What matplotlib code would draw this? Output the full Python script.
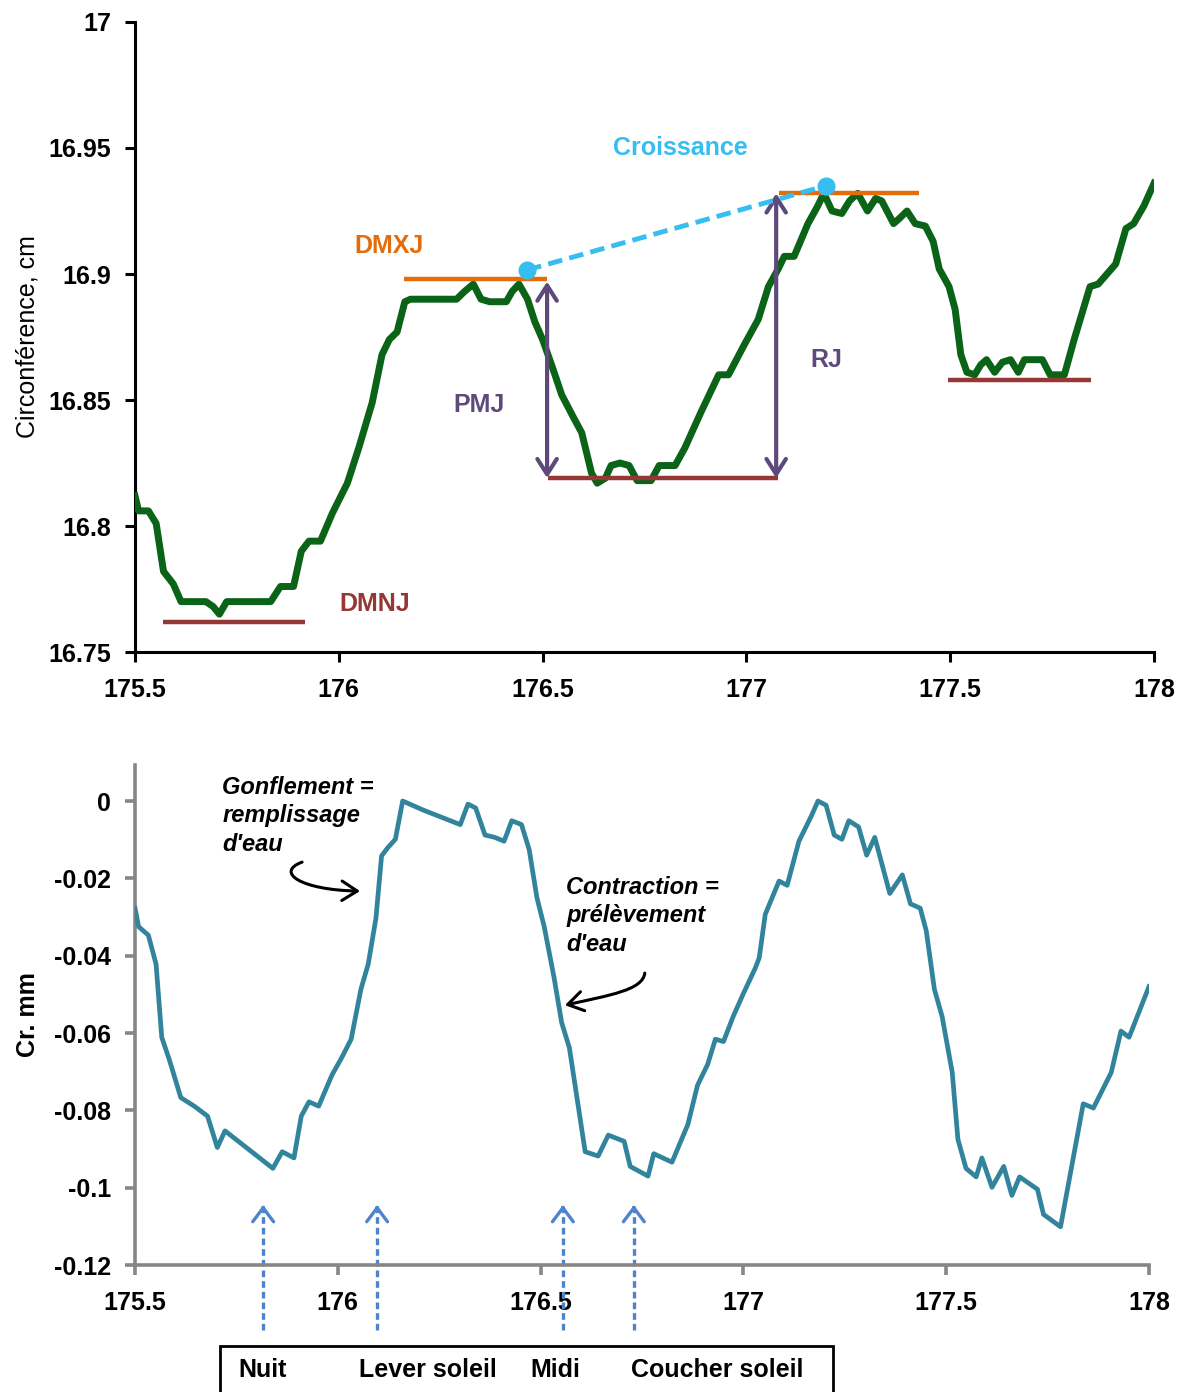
import numpy as np
import matplotlib
matplotlib.use("Agg")
import matplotlib.pyplot as plt
import matplotlib.transforms as mtransforms
from matplotlib.patches import Rectangle, FancyArrowPatch
from matplotlib.path import Path

plt.rcParams['font.family'] = ['Liberation Sans', 'DejaVu Sans']
plt.rcParams['axes.unicode_minus'] = False

# --- circumference record (cm) ---
jour_c = [175.500, 175.509, 175.533, 175.552, 175.570, 175.594, 175.613, 175.674, 175.692,
          175.707, 175.725, 175.833, 175.857, 175.889, 175.908, 175.927, 175.955, 175.984,
          176.021, 176.049, 176.082, 176.106, 176.124, 176.143, 176.162, 176.176, 176.289,
          176.308, 176.330, 176.349, 176.370, 176.411, 176.425, 176.442, 176.463, 176.481,
          176.500, 176.524, 176.547, 176.576, 176.596, 176.620, 176.634, 176.654, 176.668,
          176.690, 176.712, 176.732, 176.766, 176.786, 176.825, 176.849, 176.888, 176.932,
          176.956, 176.995, 177.029, 177.054, 177.078, 177.093, 177.117, 177.151, 177.175,
          177.190, 177.210, 177.234, 177.253, 177.273, 177.297, 177.317, 177.332, 177.361,
          177.375, 177.394, 177.414, 177.439, 177.458, 177.473, 177.497, 177.512, 177.526,
          177.541, 177.560, 177.575, 177.589, 177.609, 177.628, 177.648, 177.667, 177.682,
          177.726, 177.745, 177.780, 177.804, 177.843, 177.863, 177.906, 177.931, 177.950,
          177.975, 178.000]
circ = [16.812, 16.806, 16.806, 16.801, 16.782, 16.777, 16.770, 16.770, 16.768,
        16.765, 16.770, 16.770, 16.776, 16.776, 16.790, 16.794, 16.794, 16.805,
        16.817, 16.831, 16.849, 16.868, 16.874, 16.877, 16.889, 16.890, 16.890,
        16.893, 16.896, 16.890, 16.889, 16.889, 16.893, 16.896, 16.890, 16.881,
        16.874, 16.863, 16.852, 16.843, 16.837, 16.821, 16.817, 16.819, 16.824,
        16.825, 16.824, 16.818, 16.818, 16.824, 16.824, 16.831, 16.845, 16.860,
        16.860, 16.872, 16.882, 16.895, 16.902, 16.907, 16.907, 16.920, 16.927,
        16.932, 16.925, 16.924, 16.929, 16.932, 16.925, 16.930, 16.929, 16.920,
        16.922, 16.925, 16.920, 16.919, 16.913, 16.902, 16.895, 16.886, 16.868,
        16.861, 16.860, 16.864, 16.866, 16.861, 16.865, 16.866, 16.861, 16.866,
        16.866, 16.860, 16.860, 16.874, 16.895, 16.896, 16.904, 16.918, 16.920,
        16.927, 16.936]

# daily extremes (start, end, level)
dmnj = [(175.569, 175.917, 16.762), (176.513, 177.078, 16.819), (177.495, 177.845, 16.858)]
dmxj = [(176.160, 176.512, 16.898), (177.080, 177.423, 16.932)]
pmj = (176.511, 16.897, 16.819)
rj = (177.073, 16.932, 16.819)
croiss_x = [176.462, 177.195]
croiss_y = [16.9016, 16.935]

# --- trunk variation (mm) ---
jour_v = [175.500, 175.509, 175.533, 175.552, 175.566, 175.585, 175.613, 175.646, 175.679,
          175.703, 175.722, 175.840, 175.863, 175.892, 175.910, 175.929, 175.953, 175.986,
          176.009, 176.033, 176.057, 176.075, 176.094, 176.108, 176.123, 176.142, 176.160,
          176.212, 176.302, 176.321, 176.340, 176.363, 176.387, 176.410, 176.429, 176.453,
          176.472, 176.491, 176.509, 176.533, 176.552, 176.571, 176.610, 176.642, 176.667,
          176.706, 176.721, 176.765, 176.779, 176.824, 176.863, 176.887, 176.912, 176.931,
          176.951, 176.975, 177.000, 177.029, 177.039, 177.054, 177.088, 177.108, 177.137,
          177.167, 177.184, 177.204, 177.224, 177.243, 177.260, 177.284, 177.304, 177.324,
          177.361, 177.392, 177.412, 177.436, 177.451, 177.471, 177.490, 177.515, 177.529,
          177.549, 177.574, 177.588, 177.613, 177.642, 177.662, 177.681, 177.725, 177.740,
          177.782, 177.838, 177.863, 177.907, 177.931, 177.951, 178.000]
var = [-0.0277, -0.0325, -0.0347, -0.0422, -0.0611, -0.0670, -0.0767, -0.0789, -0.0815,
       -0.0896, -0.0853, -0.0950, -0.0907, -0.0923, -0.0815, -0.0778, -0.0789, -0.0708,
       -0.0665, -0.0616, -0.0487, -0.0422, -0.0304, -0.0142, -0.0121, -0.0099, 0.0000,
       -0.0024, -0.0061, -0.0008, -0.0018, -0.0088, -0.0094, -0.0104, -0.0051, -0.0061,
       -0.0126, -0.0250, -0.0325, -0.0455, -0.0573, -0.0638, -0.0907, -0.0918, -0.0864,
       -0.0880, -0.0945, -0.0970, -0.0912, -0.0934, -0.0837, -0.0735, -0.0681, -0.0616,
       -0.0622, -0.0557, -0.0498, -0.0433, -0.0406, -0.0293, -0.0207, -0.0218, -0.0104,
       -0.0040, 0.0000, -0.0011, -0.0088, -0.0099, -0.0051, -0.0067, -0.0140, -0.0094,
       -0.0239, -0.0191, -0.0266, -0.0277, -0.0336, -0.0487, -0.0557, -0.0702, -0.0875,
       -0.0950, -0.0972, -0.0923, -0.0999, -0.0945, -0.1020, -0.0972, -0.1004, -0.1069,
       -0.1101, -0.0783, -0.0794, -0.0702, -0.0595, -0.0611, -0.0480]

moments = [175.816, 176.097, 176.555, 176.730]
moment_labels = ["Nuit", "Lever soleil", "Midi", "Coucher soleil"]
moment_label_x = [0.222, 0.361, 0.469, 0.606]

x_ticks = [175.5, 176, 176.5, 177, 177.5, 178]
x_ticklabels = ["175.5", "176", "176.5", "177", "177.5", "178"]
yc_ticks = [16.75, 16.8, 16.85, 16.9, 16.95, 17]
yc_ticklabels = ["16.75", "16.8", "16.85", "16.9", "16.95", "17"]
yv_ticks = [-0.12, -0.1, -0.08, -0.06, -0.04, -0.02, 0]
yv_ticklabels = ["-0.12", "-0.1", "-0.08", "-0.06", "-0.04", "-0.02", "0"]

# hand-drawn pointers (cubic curves) next to the two notes
fleche_gonfl = [(175.912, -0.0158), (175.845, -0.0184), (175.907, -0.0230), (176.055, -0.0233)]
fleche_contr = [(176.757, -0.0445), (176.752, -0.0489), (176.671, -0.0502), (176.560, -0.0528)]

GREEN = "#0B6318"
ORANGE = "#E46C0A"
BROWN = "#953735"
PURPLE = "#5F497A"
SKY = "#35BEEF"
TEAL = "#31849B"
GREY = "#868686"
BLUE = "#4F84CC"
FS = 18

fig = plt.figure(figsize=(11.84, 13.92), dpi=100)
ax1 = fig.add_axes([0.114, 0.5316, 0.8607, 0.4526])
ax2 = fig.add_axes([0.114, 0.0912, 0.8564, 0.3592])

# ---------- top panel ----------
ax1.plot(jour_c, circ, color=GREEN, lw=5, solid_joinstyle='round', zorder=3)
for x0, x1, y in dmnj:
    ax1.plot([x0, x1], [y, y], color=BROWN, lw=3.2, solid_capstyle='butt', zorder=4)
for x0, x1, y in dmxj:
    ax1.plot([x0, x1], [y, y], color=ORANGE, lw=3.2, solid_capstyle='butt', zorder=4)
for x, ytop, ybot in (pmj, rj):
    ax1.annotate("", xy=(x, ybot), xytext=(x, ytop),
                 arrowprops=dict(arrowstyle="<->,head_length=1.1,head_width=0.7",
                                 color=PURPLE, lw=3, shrinkA=0, shrinkB=0), zorder=5)
ax1.plot(croiss_x, croiss_y, color=SKY, lw=3.5, dashes=(3, 1.5), zorder=5)
ax1.plot(croiss_x, croiss_y, 'o', color=SKY, ms=12, zorder=6)

ax1.text(176.837, 16.950, "Croissance", color=SKY, fontsize=FS, fontweight='bold',
         ha='center', va='center')
ax1.text(176.123, 16.911, "DMXJ", color=ORANGE, fontsize=FS, fontweight='bold',
         ha='center', va='center')
ax1.text(176.344, 16.848, "PMJ", color=PURPLE, fontsize=FS, fontweight='bold',
         ha='center', va='center')
ax1.text(177.195, 16.866, "RJ", color=PURPLE, fontsize=FS, fontweight='bold',
         ha='center', va='center')
ax1.text(176.089, 16.769, "DMNJ", color=BROWN, fontsize=FS, fontweight='bold',
         ha='center', va='center')

ax1.set_xlim(175.5, 178)
ax1.set_ylim(16.75, 17)
ax1.set_xticks(x_ticks, x_ticklabels)
ax1.set_yticks(yc_ticks, yc_ticklabels)
for s in ("top", "right"):
    ax1.spines[s].set_visible(False)
for s in ("left", "bottom"):
    ax1.spines[s].set_linewidth(2.2)
    ax1.spines[s].set_color("black")
ax1.tick_params(axis='both', direction='out', width=2.2, length=7, labelsize=FS)
ax1.tick_params(axis='x', pad=12)
ax1.tick_params(axis='y', pad=10)
for lab in ax1.get_xticklabels() + ax1.get_yticklabels():
    lab.set_fontweight('bold')
ax1.set_ylabel("Circonférence, cm", fontsize=FS)
ax1.yaxis.set_label_coords(-0.094, 0.5)

# ---------- bottom panel ----------
ax2.plot(jour_v, var, color=TEAL, lw=3.4, zorder=3)
ax2.set_xlim(175.5, 178)
ax2.set_ylim(-0.12, 0.0093)
ax2.set_xticks(x_ticks, x_ticklabels)
ax2.set_yticks(yv_ticks, yv_ticklabels)
for s in ("top", "right"):
    ax2.spines[s].set_visible(False)
for s in ("left", "bottom"):
    ax2.spines[s].set_linewidth(2.6)
    ax2.spines[s].set_color(GREY)
ax2.tick_params(axis='both', direction='out', width=2.6, length=7, color=GREY,
                labelsize=FS)
ax2.tick_params(axis='x', pad=12)
ax2.tick_params(axis='y', pad=10)
for lab in ax2.get_xticklabels() + ax2.get_yticklabels():
    lab.set_fontweight('bold')
ax2.set_ylabel("Cr. mm", fontsize=FS, fontweight='bold')
ax2.yaxis.set_label_coords(-0.094, 0.5)

ax2.text(175.715, 0.0065, "Gonflement =\nremplissage\nd'eau", fontsize=17,
         fontstyle='italic', fontweight='bold', ha='left', va='top', linespacing=1.3)
ax2.text(176.563, -0.0194, "Contraction =\nprélèvement\nd'eau", fontsize=17,
         fontstyle='italic', fontweight='bold', ha='left', va='top', linespacing=1.3)
codes = [Path.MOVETO, Path.CURVE4, Path.CURVE4, Path.CURVE4]
for pts in (fleche_gonfl, fleche_contr):
    ax2.add_patch(FancyArrowPatch(path=Path(pts, codes),
                                  arrowstyle="->,head_length=1.1,head_width=0.7",
                                  mutation_scale=10, color="black", lw=2.2,
                                  transform=ax2.transData, zorder=5))

# moments of the day: dashed stems reaching below the axis, solid heads
blend = mtransforms.blended_transform_factory(ax2.transData, ax2.transAxes)
for t in moments:
    ax2.plot([t, t], [-0.13, 0.117], color=BLUE, lw=2.4, dashes=(2, 1.2),
             transform=blend, clip_on=False)
    ax2.annotate("", xy=(t, 0.12), xytext=(t, 0.112),
                 xycoords=blend, textcoords=blend, annotation_clip=False,
                 arrowprops=dict(arrowstyle="->,head_length=1.0,head_width=0.75",
                                 color=BLUE, lw=2.4, shrinkA=0, shrinkB=0))

fig.patches.append(Rectangle((0.1858, -0.02), 0.5177, 0.053, transform=fig.transFigure,
                             fill=False, edgecolor="black", lw=2))
for lx, lab in zip(moment_label_x, moment_labels):
    fig.text(lx, 0.0158, lab, fontsize=FS, fontweight='bold', ha='center', va='center')

fig.savefig("out.png", dpi=100)
